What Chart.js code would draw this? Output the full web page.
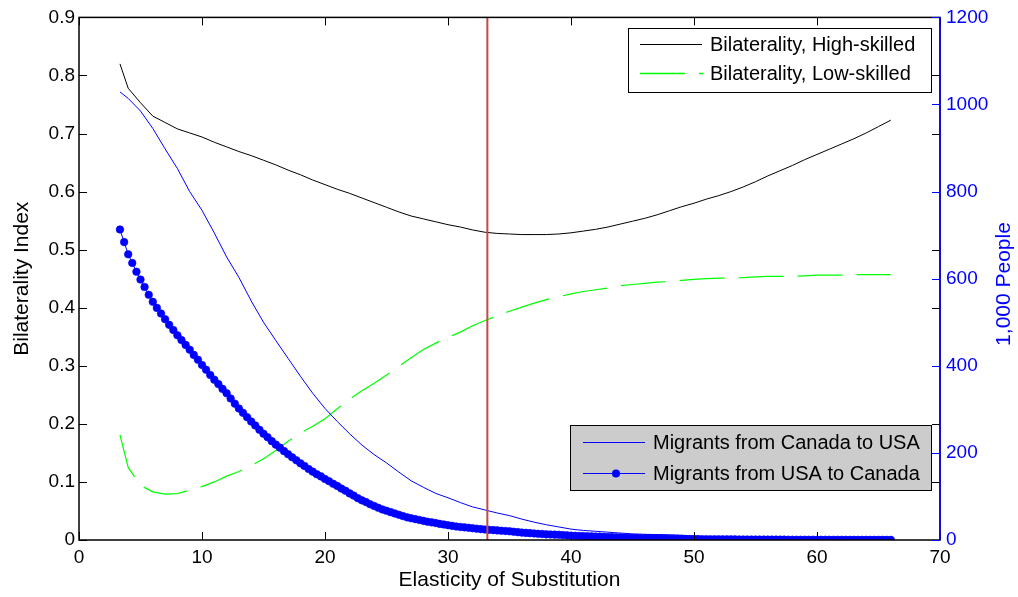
<!DOCTYPE html>
<html>
<head>
<meta charset="UTF-8">
<title>Bilaterality vs Elasticity of Substitution</title>
<script src="https://cdn.jsdelivr.net/npm/chart.js"></script>
<style>
  html, body { margin: 0; padding: 0; background: #fff; }
</style>
</head>
<body>
<canvas id="chart" width="1018" height="597"></canvas>
<script>
// x grid for the three solid/dashed lines
const lineX = [3.33, 4, 5, 6, 7, 8, 9, 10, 11, 12, 13, 14, 15, 16, 17, 18, 19, 20, 21, 22, 23, 24, 25, 26, 27, 28, 29, 30,
  31, 32, 33, 34, 35, 36, 37, 38, 39, 40, 41, 42, 43, 44, 45, 46, 47, 48, 49, 50, 51, 52, 53, 54, 55, 56, 57, 58, 59, 60,
  61, 62, 63, 64, 65, 66];

// Bilateralidade (eixo esquerdo)
const highSkilled = [0.820, 0.778, 0.753, 0.730, 0.719, 0.708, 0.701, 0.694, 0.685, 0.677, 0.669, 0.662, 0.654, 0.646,
  0.637, 0.629, 0.620, 0.612, 0.604, 0.597, 0.589, 0.581, 0.573, 0.565, 0.558, 0.553, 0.548, 0.543, 0.539, 0.534, 0.530,
  0.528, 0.527, 0.526, 0.526, 0.526, 0.527, 0.529, 0.532, 0.535, 0.539, 0.544, 0.549, 0.554, 0.560, 0.567, 0.574, 0.580,
  0.587, 0.593, 0.600, 0.608, 0.617, 0.627, 0.636, 0.645, 0.655, 0.664, 0.673, 0.682, 0.691, 0.701, 0.712, 0.723];
const lowSkilled = [0.181, 0.125, 0.094, 0.083, 0.079, 0.080, 0.086, 0.092, 0.100, 0.110, 0.118, 0.128, 0.140, 0.154,
  0.170, 0.184, 0.196, 0.209, 0.226, 0.243, 0.257, 0.270, 0.284, 0.299, 0.314, 0.328, 0.339, 0.349, 0.358, 0.369, 0.378,
  0.386, 0.394, 0.401, 0.408, 0.414, 0.419, 0.424, 0.428, 0.431, 0.434, 0.438, 0.440, 0.442, 0.444, 0.445, 0.447, 0.449,
  0.450, 0.451, 0.451, 0.452, 0.453, 0.454, 0.454, 0.454, 0.455, 0.456, 0.456, 0.456, 0.457, 0.457, 0.457, 0.457];

// Migrantes, em mil pessoas (eixo direito)
const canadaToUsa = [1029, 1014, 985, 945, 898, 853, 800, 757, 705, 650, 603, 549, 500, 458, 417, 376, 337, 302, 272,
  244, 218, 196, 177, 156, 136, 121, 107, 97, 86, 76, 69, 62, 56, 48, 41, 35, 30, 25, 22, 20, 18, 16, 14, 13, 12.5, 12,
  11, 9, 8, 7, 6.5, 6, 5, 4.5, 4, 3.5, 3.3, 3, 2.8, 2.6, 2.5, 2.3, 2.1, 2];

const usaX = [3.33, 3.67, 4, 4.33, 4.67, 5, 5.33, 5.67, 6, 6.33, 6.67, 7, 7.33, 7.67, 8, 8.33, 8.67, 9, 9.33, 9.67, 10,
  10.33, 10.67, 11, 11.33, 11.67, 12, 12.33, 12.67, 13, 13.33, 13.67, 14, 14.33, 14.67, 15, 15.33, 15.67, 16, 16.33,
  16.67, 17, 17.33, 17.67, 18, 18.33, 18.67, 19, 19.33, 19.67, 20, 20.33, 20.67, 21, 21.33, 21.67, 22, 22.33, 22.67, 23,
  23.33, 23.67, 24, 24.33, 24.67, 25, 25.33, 25.67, 26, 26.33, 26.67, 27, 27.33, 27.67, 28, 28.33, 28.67, 29, 29.33,
  29.67, 30, 30.33, 30.67, 31, 31.33, 31.67, 32, 32.33, 32.67, 33, 33.33, 33.67, 34, 34.33, 34.67, 35, 35.33, 35.67, 36,
  36.33, 36.67, 37, 37.33, 37.67, 38, 38.33, 38.67, 39, 39.33, 39.67, 40, 40.33, 40.67, 41, 41.33, 41.67, 42, 42.33,
  42.67, 43, 43.33, 43.67, 44, 44.33, 44.67, 45, 45.33, 45.67, 46, 46.33, 46.67, 47, 47.33, 47.67, 48, 48.33, 48.67, 49,
  49.33, 49.67, 50, 50.33, 50.67, 51, 51.33, 51.67, 52, 52.33, 52.67, 53, 53.33, 53.67, 54, 54.33, 54.67, 55, 55.33,
  55.67, 56, 56.33, 56.67, 57, 57.33, 57.67, 58, 58.33, 58.67, 59, 59.33, 59.67, 60, 60.33, 60.67, 61, 61.33, 61.67, 62,
  62.33, 62.67, 63, 63.33, 63.67, 64, 64.33, 64.67, 65, 65.33, 65.67, 66];
const usaToCanada = [713, 684, 656, 636, 616, 598, 581, 563, 547, 533, 520, 507, 494, 482, 470, 459, 448, 437, 425, 414,
  402, 391, 379, 368, 358, 347, 337, 325, 313, 302, 292, 282, 272, 263, 253, 244, 236, 227, 219, 212, 204, 197, 190, 183,
  176, 170, 163, 157, 151, 146, 140, 135, 129, 124, 118, 113, 107, 102, 96, 91, 87, 82, 78, 74, 70, 67, 64, 61, 58, 55,
  52, 50, 48, 46, 44, 42, 40.5, 39, 37, 35.5, 34, 32.5, 31, 30, 29, 28, 27, 26, 25, 24, 23.3, 22.7, 22, 21.3, 20.7, 20,
  19, 18, 17, 16.3, 15.7, 15, 14.3, 13.7, 13, 12.7, 12.3, 12, 11.3, 10.7, 10, 9.7, 9.3, 9, 8.7, 8.3, 8, 7.7, 7.3, 7,
  6.7, 6.3, 6, 5.7, 5.3, 5, 4.8, 4.7, 4.5, 4.3, 4.2, 4, 3.7, 3.3, 3, 2.8, 2.7, 2.5, 2.3, 2.2, 2, 1.95, 1.87, 1.8, 1.73,
  1.67, 1.6, 1.53, 1.47, 1.4, 1.33, 1.27, 1.2, 1.13, 1.07, 1, 0.97, 0.93, 0.9, 0.87, 0.83, 0.8, 0.77, 0.73, 0.7, 0.67,
  0.65, 0.62, 0.6, 0.57, 0.55, 0.53, 0.52, 0.5, 0.48, 0.47, 0.45, 0.44, 0.42, 0.41, 0.4, 0.38, 0.37, 0.36, 0.34, 0.33,
  0.32, 0.31, 0.3];

// linha vertical de referência
const cutoffX = 33.2;

const legendTop = ['Bilaterality, High-skilled', 'Bilaterality, Low-skilled'];
const legendBottom = ['Migrants from Canada to USA', 'Migrants from USA to Canada'];
const rightTitle = '1,000 People';

const FONT = 'Liberation Sans, Arial, Helvetica, sans-serif';
const BLUE = '#0000ff';
const GREEN = '#00ff00';
const GREEN_DASH = [45, 14];

const toPoints = (xs, ys) => xs.map((x, i) => ({ x, y: ys[i] }));

// Moldura estilo MATLAB + legendas desenhadas à mão
const framePlugin = {
  id: 'matlabFrame',
  afterDraw(chart) {
    const { ctx, chartArea: a, scales } = chart;
    const tl = 8;
    ctx.save();

    ctx.strokeStyle = '#000';
    ctx.lineWidth = 1.5;
    ctx.strokeRect(a.left, a.top, a.right - a.left, a.bottom - a.top);

    ctx.lineWidth = 1;
    ctx.beginPath();
    scales.x.ticks.forEach(t => {
      const px = Math.round(scales.x.getPixelForValue(t.value)) + 0.5;
      ctx.moveTo(px, a.bottom); ctx.lineTo(px, a.bottom - tl);
      ctx.moveTo(px, a.top); ctx.lineTo(px, a.top + tl);
    });
    scales.y.ticks.forEach(t => {
      const py = Math.round(scales.y.getPixelForValue(t.value)) + 0.5;
      ctx.moveTo(a.left, py); ctx.lineTo(a.left + tl, py);
      ctx.moveTo(a.right, py); ctx.lineTo(a.right - tl, py);
    });
    ctx.stroke();

    // eixo direito em azul
    ctx.strokeStyle = BLUE;
    ctx.lineWidth = 1.5;
    ctx.beginPath();
    ctx.moveTo(a.right, a.top); ctx.lineTo(a.right, a.bottom);
    ctx.stroke();
    ctx.lineWidth = 1;
    ctx.beginPath();
    scales.y2.ticks.forEach(t => {
      const py = Math.round(scales.y2.getPixelForValue(t.value)) + 0.5;
      ctx.moveTo(a.right, py); ctx.lineTo(a.right - tl, py);
    });
    ctx.stroke();

    // título do eixo direito, lido de baixo para cima como no MATLAB
    ctx.save();
    ctx.translate(1004, 284);
    ctx.rotate(-Math.PI / 2);
    ctx.font = '21px ' + FONT;
    ctx.fillStyle = BLUE;
    ctx.textAlign = 'center';
    ctx.textBaseline = 'middle';
    ctx.fillText(rightTitle, 0, 0);
    ctx.restore();

    ctx.font = '20px ' + FONT;
    ctx.textBaseline = 'middle';
    ctx.textAlign = 'left';

    // legenda 1 (branca)
    ctx.fillStyle = '#fff';
    ctx.fillRect(628.5, 28.5, 303, 64);
    ctx.strokeStyle = '#000';
    ctx.strokeRect(628.5, 28.5, 303, 64);
    ctx.beginPath();
    ctx.moveTo(640, 44.5); ctx.lineTo(702, 44.5);
    ctx.stroke();
    ctx.strokeStyle = GREEN;
    ctx.lineWidth = 1.3;
    ctx.setLineDash(GREEN_DASH);
    ctx.beginPath();
    ctx.moveTo(640, 73.5); ctx.lineTo(703, 73.5);
    ctx.stroke();
    ctx.setLineDash([]);
    ctx.lineWidth = 1;
    ctx.fillStyle = '#000';
    ctx.fillText(legendTop[0], 710, 45);
    ctx.fillText(legendTop[1], 710, 74);

    // legenda 2 (cinza)
    ctx.fillStyle = '#cccccc';
    ctx.fillRect(570.5, 425.5, 361, 65);
    ctx.strokeStyle = '#000';
    ctx.strokeRect(570.5, 425.5, 361, 65);
    ctx.strokeStyle = BLUE;
    ctx.beginPath();
    ctx.moveTo(583, 442.5); ctx.lineTo(645, 442.5);
    ctx.moveTo(583, 473.5); ctx.lineTo(645, 473.5);
    ctx.stroke();
    ctx.fillStyle = BLUE;
    ctx.beginPath();
    ctx.arc(616, 473.5, 4, 0, Math.PI * 2);
    ctx.fill();
    ctx.fillStyle = '#000';
    ctx.fillText(legendBottom[0], 653, 443);
    ctx.fillText(legendBottom[1], 653, 474);

    ctx.restore();
  }
};

Chart.defaults.font.family = FONT;
Chart.defaults.color = '#000';

new Chart(document.getElementById('chart'), {
  type: 'line',
  data: {
    datasets: [
      {
        label: 'cutoff',
        data: [{ x: cutoffX, y: 0 }, { x: cutoffX, y: 0.9 }],
        borderColor: '#bf4a46',
        borderWidth: 2,
        pointRadius: 0,
        yAxisID: 'y',
        order: 0
      },
      {
        label: legendBottom[1],
        data: toPoints(usaX, usaToCanada),
        borderColor: BLUE,
        backgroundColor: BLUE,
        borderWidth: 1,
        pointRadius: 3.8,
        pointBorderWidth: 0.6,
        pointBorderColor: BLUE,
        pointBackgroundColor: BLUE,
        yAxisID: 'y2',
        order: 1
      },
      {
        label: legendBottom[0],
        data: toPoints(lineX, canadaToUsa),
        borderColor: BLUE,
        borderWidth: 1,
        pointRadius: 0,
        yAxisID: 'y2',
        order: 2
      },
      {
        label: legendTop[1],
        data: toPoints(lineX, lowSkilled),
        borderColor: GREEN,
        borderWidth: 1.2,
        borderDash: GREEN_DASH,
        pointRadius: 0,
        yAxisID: 'y',
        order: 3
      },
      {
        label: legendTop[0],
        data: toPoints(lineX, highSkilled),
        borderColor: '#000',
        borderWidth: 1,
        pointRadius: 0,
        yAxisID: 'y',
        order: 4
      }
    ]
  },
  options: {
    responsive: false,
    animation: false,
    layout: { padding: { top: 15, left: 0, right: 0, bottom: 0 } },
    plugins: { legend: { display: false }, tooltip: { enabled: false } },
    scales: {
      x: {
        type: 'linear', min: 0, max: 70,
        grid: { display: false, drawTicks: false },
        border: { display: false },
        ticks: { stepSize: 10, maxRotation: 0, autoSkip: false, padding: 6, font: { size: 19 }, color: '#000' },
        title: { display: true, text: 'Elasticity of Substitution', font: { size: 21 }, color: '#000', padding: { top: 0, bottom: 4 } },
        afterFit: s => { s.height = 57; }
      },
      y: {
        position: 'left', min: 0, max: 0.9,
        grid: { display: false, drawTicks: false },
        border: { display: false },
        ticks: { stepSize: 0.1, padding: 4, font: { size: 19 }, color: '#000', callback: v => v === 0 ? '0' : v.toFixed(1) },
        title: { display: true, text: 'Bilaterality Index', font: { size: 21 }, color: '#000', padding: { top: 10, bottom: 0 } },
        afterFit: s => { s.width = 79; }
      },
      y2: {
        position: 'right', min: 0, max: 1200,
        grid: { display: false, drawTicks: false },
        border: { display: false },
        ticks: { stepSize: 200, padding: 6, font: { size: 19 }, color: BLUE, callback: v => String(v) },
        title: { display: false },
        afterFit: s => { s.width = 78; }
      }
    }
  },
  plugins: [framePlugin]
});
</script>
</body>
</html>
